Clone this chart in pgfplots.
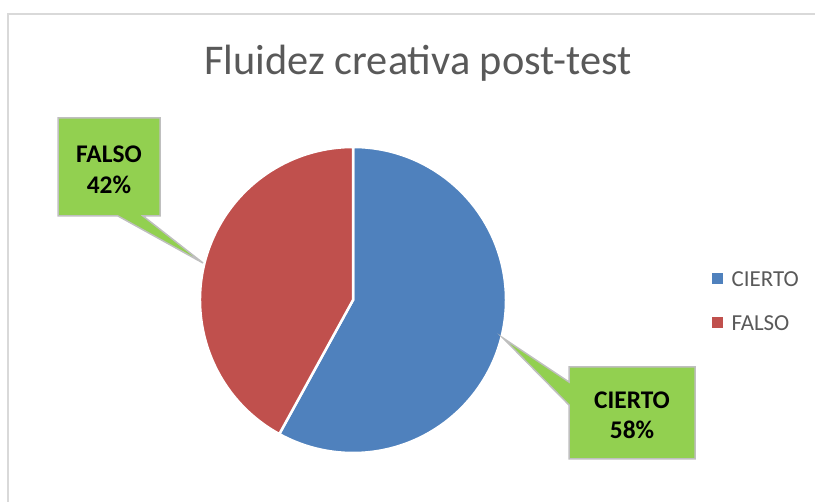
\documentclass[border=0pt]{standalone}
\usepackage{pgfplots}
\usepackage{pgfplotstable}
\pgfplotsset{compat=1.18}
\usepackage{fontspec}
\setmainfont{Carlito}
\definecolor{pieblue}{HTML}{4F81BD}
\definecolor{piered}{HTML}{C0504D}
\definecolor{callgreen}{HTML}{92D050}
\definecolor{txtgray}{HTML}{595959}
\definecolor{framegray}{HTML}{D9D9D9}
\definecolor{callborder}{HTML}{BFBFBF}
\pgfplotstableread{
label value
CIERTO 58
FALSO 42
}\piedata
\pgfplotstablegetelem{0}{value}\of\piedata \edef\vA{\pgfplotsretval}
\pgfplotstablegetelem{1}{value}\of\piedata \edef\vB{\pgfplotsretval}
\pgfmathsetmacro\angA{90-3.6*\vA}
\pgfmathsetmacro\pxA{353+153*cos(\angA)}
\pgfmathsetmacro\pyA{202+153*sin(\angA)}
\begin{document}
\begin{tikzpicture}[x=1bp,y=1bp]
\useasboundingbox (0,0) rectangle (815,502);
\clip (0,0) rectangle (815,502);
\draw[framegray, line width=1.5bp] (8,488) rectangle (840,-30);
\begin{axis}[at={(0,0)}, anchor=origin, x=1bp, y=1bp,
  xmin=0, xmax=815, ymin=0, ymax=502, hide axis, clip=false,
  legend style={at={(712/815,200.5/502)}, anchor=west, draw=none, fill=none,
    font=\fontsize{23}{27}\selectfont\color{txtgray}, row sep=28bp,
    inner sep=0pt, cells={anchor=west},
    nodes={inner sep=0pt, outer sep=0pt}},
  legend image code/.code={\fill[#1] (0bp,-4bp) rectangle (10bp,6bp);},
  legend cell align=left,
  ]
  \addlegendimage{pieblue}
  \addlegendentry{\hspace{9bp}CIERTO}
  \addlegendimage{piered}
  \addlegendentry{\hspace{9bp}FALSO}
  \fill[pieblue, draw=white, line width=2.5bp] (axis cs:353,202) -- (axis cs:353,355) arc[start angle=90, end angle=\angA, radius=153] -- cycle;
  \fill[piered, draw=white, line width=2.5bp] (axis cs:353,202) -- (axis cs:\pxA,\pyA) arc[start angle=\angA, end angle=-270, radius=153] -- cycle;
\end{axis}
\node[txtgray, font=\fontsize{42.5}{48}\selectfont] at (418,439) {Fluidez creativa post-test};
\filldraw[fill=callgreen, draw=callborder, line width=1.5bp] (58,384) -- (160,384) -- (160,286) -- (143,286) -- (203,239) -- (118,286) -- (58,286) -- cycle;
\filldraw[fill=callgreen, draw=callborder, line width=1.5bp] (569,135) -- (695,135) -- (695,43) -- (569,43) -- (569,97) -- (503,164) -- (569,120) -- cycle;
\node[font=\bfseries\fontsize{25.5}{31}\selectfont, align=center] at (109,332.5) {FALSO\\\vB\%};
\node[font=\bfseries\fontsize{25.5}{30}\selectfont, align=center] at (632,87) {CIERTO\\\vA\%};
\end{tikzpicture}
\end{document}
